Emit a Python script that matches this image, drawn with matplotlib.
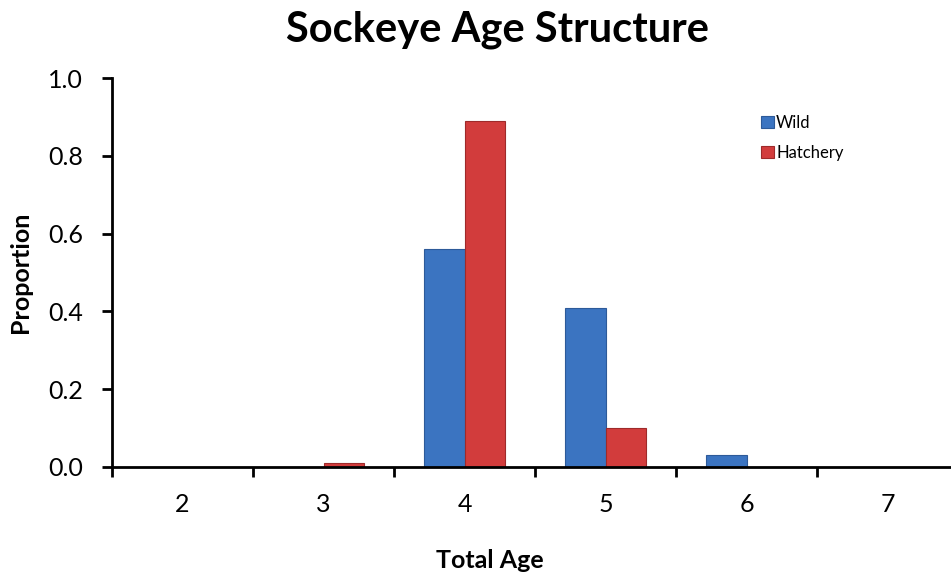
import matplotlib
matplotlib.use("Agg")
import matplotlib.pyplot as plt
import numpy as np

ages = [2, 3, 4, 5, 6, 7]
wild = [0.0, 0.0, 0.56, 0.41, 0.03, 0.0]
hatchery = [0.0, 0.01, 0.89, 0.10, 0.0, 0.0]
yticks = [0.0, 0.2, 0.4, 0.6, 0.8, 1.0]

plt.rcParams['font.family'] = ['Lato', 'DejaVu Sans']

fig = plt.figure(figsize=(9.51, 5.75), dpi=100)
ax = fig.add_axes([112/951, 108/575, 846/951, 389/575])

x = np.arange(len(ages))
w = 0.29
ax.bar(x - w/2, wild, width=w, color='#3b74c1', edgecolor='#2d5a99', linewidth=0.8, label='Wild')
ax.bar(x + w/2, hatchery, width=w, color='#d23c3c', edgecolor='#9e2a2a', linewidth=0.8, label='Hatchery')

ax.set_xlim(-0.5, len(ages) - 0.5)
ax.set_ylim(0, 1.0)
ax.set_yticks(yticks)
ax.set_yticklabels([f"{v:.1f}" for v in yticks], fontsize=18)
ax.set_xticks(x)
ax.set_xticklabels([str(a) for a in ages], fontsize=18)
ax.tick_params(axis='x', which='major', length=0, pad=19)
ax.set_xticks(np.arange(-0.5, len(ages) - 0.4, 1), minor=True)
ax.tick_params(axis='x', which='minor', length=7, width=2, direction='out')
ax.tick_params(axis='y', length=7, width=2, direction='out', pad=14)

for s in ['top', 'right']:
    ax.spines[s].set_visible(False)
ax.spines['left'].set_linewidth(2)
ax.spines['bottom'].set_linewidth(2)
ax.spines['bottom'].set_zorder(5)

fig.text(497/951, 1 - 30/575, 'Sockeye Age Structure', ha='center', va='center', fontsize=30, fontweight='bold')
fig.text(21/951, 1 - 272/575, 'Proportion', ha='center', va='center', rotation=90, fontsize=18, fontweight='bold')
fig.text(490/951, 1 - 560/575, 'Total Age', ha='center', va='center', fontsize=18, fontweight='bold')

leg = ax.legend(loc='upper left', bbox_to_anchor=((761 - 112)/846, (467 - 115)/389),
                bbox_transform=ax.transAxes, frameon=False, fontsize=12,
                handlelength=0.75, handleheight=0.75, handletextpad=0.15, labelspacing=0.85,
                borderaxespad=0, borderpad=0)

fig.savefig('out.png', dpi=100)
